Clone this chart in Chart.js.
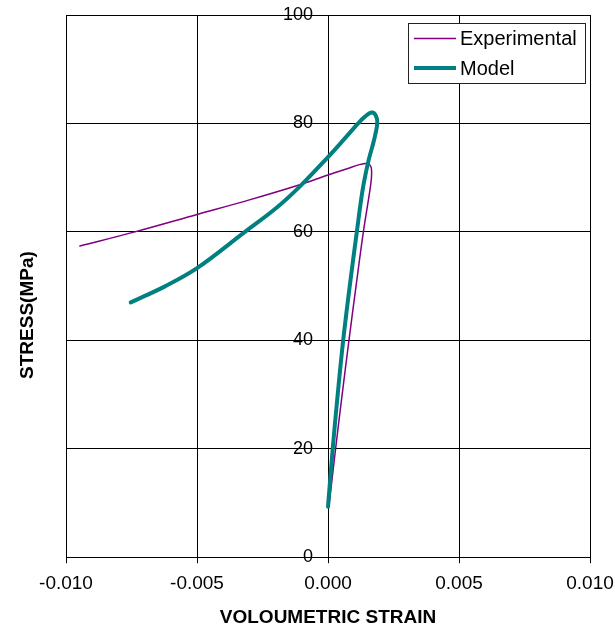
<!DOCTYPE html>
<html>
<head>
<meta charset="utf-8">
<script src="https://cdn.jsdelivr.net/npm/chart.js@4.4.1/dist/chart.umd.min.js"></script>
<style>
  html, body { margin: 0; padding: 0; background: #fff; }
  #wrap { width: 615px; height: 627px; }
</style>
</head>
<body>
<div id="wrap"><canvas id="myChart"></canvas></div>
<script>
// data
const strainExp = [0.00005, 0.00029, 0.00054, 0.0008, 0.00107, 0.00135, 0.0016, 0.00166, 0.00163, 0.00141, 0.0007, 0.0, -0.00114, -0.0030, -0.005, -0.00737, -0.00947];
const stressExp = [10, 20, 30, 40, 50, 60, 67.7, 70.2, 72.1, 72.6, 71.6, 70.5, 68.6, 65.9, 63.2, 60, 57.4];

const strainModel = [0.0, 0.00018, 0.00037, 0.00058, 0.00083, 0.0011, 0.00132, 0.00154, 0.00176, 0.00188, 0.00183, 0.00167, 0.0014, 0.00115, 0.0006, 0.0, -0.00107, -0.002, -0.00317, -0.005, -0.0062, -0.00753];
const stressModel = [9.3, 20, 30, 40, 50, 60, 67.7, 73, 77, 80, 81.4, 82, 81.2, 80, 77.0, 73.8, 68.4, 64.3, 60, 53.3, 50, 47];

const xTicks = [-0.010, -0.005, 0.000, 0.005, 0.010];
const yTicks = [0, 20, 40, 60, 80, 100];

const FONT = "'Liberation Sans', Arial, sans-serif";

const toPts = (xs, ys) => xs.map((x, i) => ({x: x, y: ys[i]}));

// legend drawn as a boxed panel in the top right corner
const legendBox = {
  id: 'legendBox',
  afterDraw(chart) {
    const {ctx, chartArea} = chart;
    const sets = chart.data.datasets;
    ctx.save();
    ctx.font = '20px ' + FONT;
    const textW = Math.max(...sets.map(d => ctx.measureText(d.label).width));
    const w = Math.round(6 + 42 + 4 + textW + 8);
    const h = 60;
    const x = Math.round(chartArea.right - 5 - w);
    const y = Math.round(chartArea.top + 8);
    ctx.fillStyle = '#fff';
    ctx.fillRect(x, y, w, h);
    ctx.strokeStyle = '#222';
    ctx.lineWidth = 1;
    ctx.strokeRect(x + 0.5, y + 0.5, w, h);
    sets.forEach((d, i) => {
      const cy = y + 15.5 + i * 29.5;
      ctx.strokeStyle = d.borderColor;
      ctx.lineWidth = d.borderWidth;
      ctx.beginPath();
      ctx.moveTo(x + 6, cy);
      ctx.lineTo(x + 48, cy);
      ctx.stroke();
      ctx.fillStyle = '#000';
      ctx.textBaseline = 'middle';
      ctx.textAlign = 'left';
      ctx.fillText(d.label, x + 52, cy + 1);
    });
    ctx.restore();
  }
};

// y title sits at the far left, not next to the centred axis
const yTitle = {
  id: 'yTitle',
  afterDraw(chart) {
    const {ctx, chartArea} = chart;
    ctx.save();
    ctx.translate(chartArea.left - 38, (chartArea.top + chartArea.bottom) / 2 + 29);
    ctx.rotate(-Math.PI / 2);
    ctx.font = 'bold 19px ' + FONT;
    ctx.fillStyle = '#000';
    ctx.textAlign = 'center';
    ctx.textBaseline = 'middle';
    ctx.fillText('STRESS(MPa)', 0, 0);
    ctx.restore();
  }
};

const data = {
  datasets: [{
    label: 'Experimental',
    data: toPts(strainExp, stressExp),
    borderColor: '#800080',
    backgroundColor: '#800080',
    borderWidth: 1.5,
    order: 1
  }, {
    label: 'Model',
    data: toPts(strainModel, stressModel),
    borderColor: '#008080',
    backgroundColor: '#008080',
    borderWidth: 4,
    order: 0
  }]
};

const config = {
  type: 'scatter',
  data,
  options: {
    responsive: true,
    maintainAspectRatio: false,
    animation: false,
    layout: {
      padding: {left: 66, right: 25, top: 15, bottom: 0}
    },
    elements: {
      point: { radius: 0, hoverRadius: 0 },
      line: { tension: 0.35, borderJoinStyle: 'round', borderCapStyle: 'round' }
    },
    datasets: {
      scatter: { showLine: true }
    },
    scales: {
      x: {
        type: 'linear',
        position: 'bottom',
        min: -0.01,
        max: 0.01,
        afterBuildTicks: s => { s.ticks = xTicks.map(v => ({value: v})); },
        afterFit: s => { s.paddingLeft = 0; s.paddingRight = 0; },
        ticks: {
          color: '#000',
          padding: 9,
          maxRotation: 0,
          font: { size: 19, family: FONT },
          callback: v => v.toFixed(3)
        },
        grid: { color: '#000', lineWidth: 1, tickLength: 6, tickColor: '#000' },
        border: { color: '#000', width: 1 },
        title: {
          display: true,
          text: 'VOLOUMETRIC STRAIN',
          color: '#000',
          font: { size: 19, weight: 'bold', family: FONT, lineHeight: 1 },
          padding: { top: 4, bottom: 0 }
        }
      },
      y: {
        type: 'linear',
        position: 'center',
        min: 0,
        max: 100,
        afterBuildTicks: s => { s.ticks = yTicks.map(v => ({value: v})); },
        afterFit: s => { s.paddingTop = 0; s.paddingBottom = 0; },
        ticks: {
          color: '#000',
          padding: 9,
          font: { size: 18, family: FONT }
        },
        grid: { color: '#000', lineWidth: 1, tickLength: 6, tickColor: '#000' },
        border: { color: '#000', width: 1 }
      }
    },
    plugins: {
      legend: { display: false },
      tooltip: { enabled: false }
    }
  },
  plugins: [legendBox, yTitle]
};

const myChart = new Chart(document.getElementById('myChart'), config);
</script>
</body>
</html>
